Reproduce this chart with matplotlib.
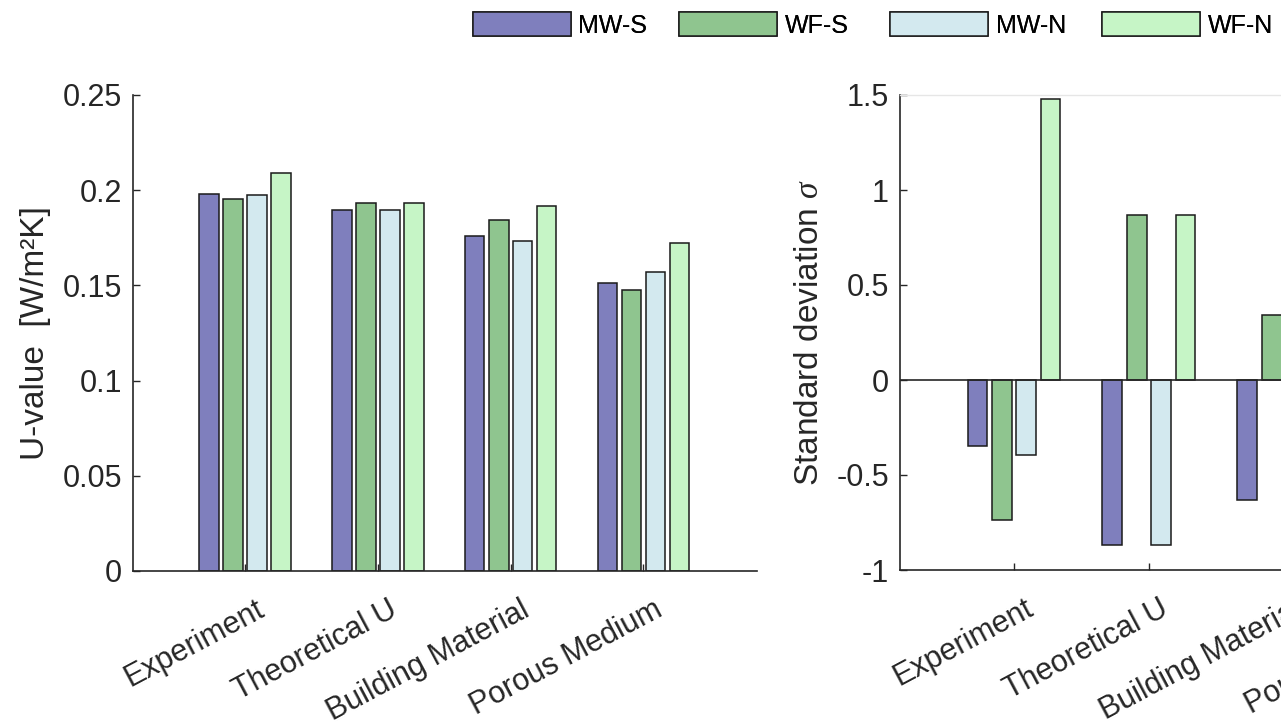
import matplotlib
matplotlib.use("Agg")
import matplotlib.pyplot as plt
import matplotlib.transforms as mtransforms
from matplotlib.patches import Patch
import numpy as np

plt.rcParams['font.family'] = ['Liberation Sans', 'DejaVu Sans']
plt.rcParams['axes.unicode_minus'] = False
plt.rcParams['mathtext.fontset'] = 'custom'
plt.rcParams['mathtext.it'] = 'Liberation Serif:italic'

categories = ["Experiment", "Theoretical U", "Building Material", "Porous Medium"]
series = ["MW-S", "WF-S", "MW-N", "WF-N"]
colors = ["#7f7fbd", "#8fc58f", "#d3e9ef", "#c6f5c6"]

# U-values [W/m2K], one list per series (order: categories)
u_mw_s = [0.1978, 0.1894, 0.1761, 0.1514]
u_wf_s = [0.1954, 0.1933, 0.1842, 0.1476]
u_mw_n = [0.1975, 0.1894, 0.1735, 0.1572]
u_wf_n = [0.2089, 0.1933, 0.1919, 0.1721]

# Standardised deviation sigma
s_mw_s = [-0.347, -0.866, -0.634, -0.53]
s_wf_s = [-0.739, 0.866, 0.342, -0.88]
s_mw_n = [-0.395, -0.866, -0.95, 0.01]
s_wf_n = [1.479, 0.866, 1.26, 1.40]

u_ticks = [0, 0.05, 0.1, 0.15, 0.2, 0.25]
u_ticklabels = ["0", "0.05", "0.1", "0.15", "0.2", "0.25"]
s_ticks = [-1, -0.5, 0, 0.5, 1, 1.5]
s_ticklabels = ["-1", "-0.5", "0", "0.5", "1", "1.5"]

W, H = 1281, 725
fig = plt.figure(figsize=(W / 100, H / 100), dpi=100)

dark = "#262626"
tick_fs = 22
label_fs = 24
offsets = [-0.271, -0.090, 0.090, 0.271]
bw = 0.147
x = np.arange(1, len(categories) + 1)


def style_axes(ax):
    for sp in ["left", "bottom"]:
        ax.spines[sp].set_color(dark)
        ax.spines[sp].set_linewidth(1.2)
    ax.spines["right"].set_visible(False)
    ax.tick_params(direction="in", length=5, width=1.0, color=dark,
                   labelcolor=dark, labelsize=tick_fs)
    ax.tick_params(axis="y", pad=8)
    ax.set_xticks(x)
    ax.set_xticklabels(categories, rotation=28, ha="right", va="center",
                       rotation_mode="anchor")
    off = mtransforms.ScaledTranslation(17 / 100, -32 / 100, fig.dpi_scale_trans)
    for lab in ax.get_xticklabels():
        lab.set_transform(lab.get_transform() + off)
    ax.set_xlim(0.155, 4.855)


# Left axes: U-values
ax1 = fig.add_axes([133 / W, 154 / H, 624 / W, 476 / H])
for vals, off, c in zip([u_mw_s, u_wf_s, u_mw_n, u_wf_n], offsets, colors):
    ax1.bar(x + off, vals, width=bw, color=c, edgecolor="#1a1a1a", linewidth=1.1)
style_axes(ax1)
ax1.spines["top"].set_visible(False)
ax1.set_ylim(0, 0.25)
ax1.set_yticks(u_ticks)
ax1.set_yticklabels(u_ticklabels)
ax1.set_ylabel("U-value  [W/m²K]", fontsize=label_fs, color=dark, labelpad=8)

# Right axes: standard deviation (extends beyond the figure edge)
ax2 = fig.add_axes([900 / W, 155 / H, 634 / W, 475 / H])
for vals, off, c in zip([s_mw_s, s_wf_s, s_mw_n, s_wf_n], offsets, colors):
    ax2.bar(x + off, vals, width=bw, color=c, edgecolor="#1a1a1a", linewidth=1.1)
style_axes(ax2)
ax2.spines["top"].set_color("#e6e6e6")
ax2.spines["top"].set_linewidth(1.0)
ax2.axhline(0, color=dark, linewidth=1.2)
ax2.set_ylim(-1, 1.5)
ax2.set_yticks(s_ticks)
ax2.set_yticklabels(s_ticklabels)
ax2.set_ylabel(r"Standard deviation $\sigma$", fontsize=label_fs, color=dark, labelpad=8)

# Legend: one fixed-width column per series, as in the reference
legend_x = [473, 679, 890, 1102]
for lx, name, c in zip(legend_x, series, colors):
    h = Patch(facecolor=c, edgecolor="#1a1a1a", linewidth=1.1)
    leg = fig.legend([h], [name], loc="center left",
                     bbox_to_anchor=(lx / W, 1 - 25 / H), frameon=False,
                     fontsize=18, handlelength=3.9, handleheight=1.05,
                     handletextpad=0.32, borderpad=0, borderaxespad=0)
    fig.add_artist(leg)

fig.savefig("out.png", dpi=100)
